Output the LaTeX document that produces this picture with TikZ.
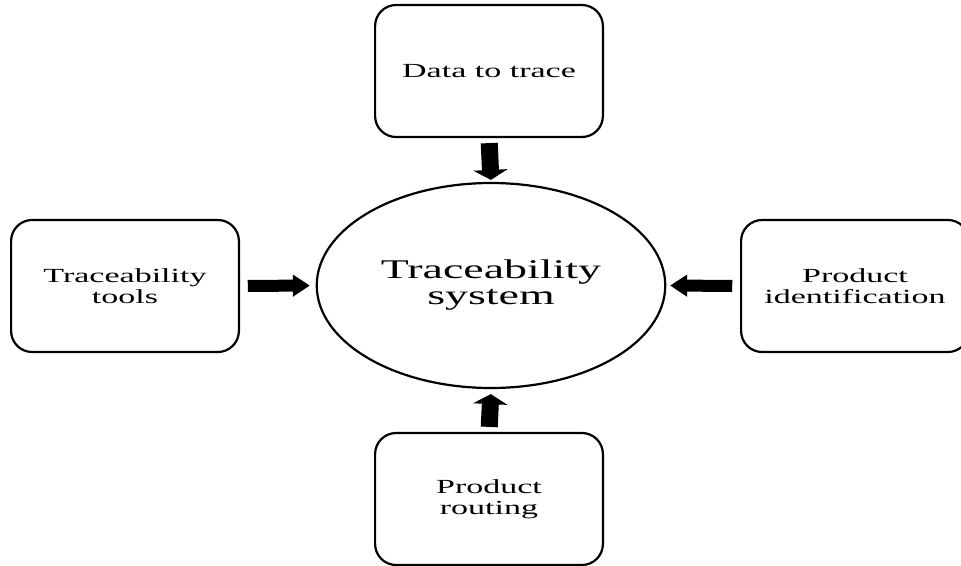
\documentclass[tikz,border=0pt]{standalone}
\usepackage{fontspec}
\setmainfont{Liberation Serif}
\usetikzlibrary{arrows.meta}
\begin{document}
\begin{tikzpicture}[x=1pt,y=-1pt,
  box/.style={draw, line width=2.2pt, rounded corners=21pt,
    minimum width=134pt, minimum height=132pt, inner sep=0pt,
    align=center, font=\fontsize{20}{21}\selectfont, transform shape},
  hub/.style={draw, circle, line width=2.2pt, minimum size=205pt,
    inner sep=0pt, align=center, font=\fontsize{27}{26}\selectfont,
    transform shape},
  vflow/.style={line width=17pt, -{Triangle[width=34pt,length=10pt]}},
  hflow/.style={line width=12pt, -{Triangle[width=21pt,length=17pt]}},
]
\useasboundingbox (0,0) rectangle (961,565);
% shapes are laid out in a horizontally widened frame
\begin{scope}[xscale=1.7]
  \node[hub] (sys)  at (491/1.7,285.5) {Traceability\\system};
  \node[box] (data) at (489/1.7,71)    {Data to trace};
  \node[box] (tools) at (125/1.7,286)  {Traceability\\tools};
  \node[box] (ident) at (855/1.7,286)  {Product\\identification};
  \node[box] (route) at (489/1.7,499)  {Product\\routing};
\end{scope}
% inputs flowing into the central system
\draw[vflow, shorten <=5pt, shorten >=2pt] (data.south) -- (sys.north);
\draw[vflow, shorten <=5pt, shorten >=5pt] (route.north) -- (sys.south);
\draw[hflow, shorten <=7pt, shorten >=5pt] (tools.east) -- (sys.west);
\draw[hflow, shorten <=7pt, shorten >=3pt] (ident.west) -- (sys.east);
\end{tikzpicture}
\end{document}
